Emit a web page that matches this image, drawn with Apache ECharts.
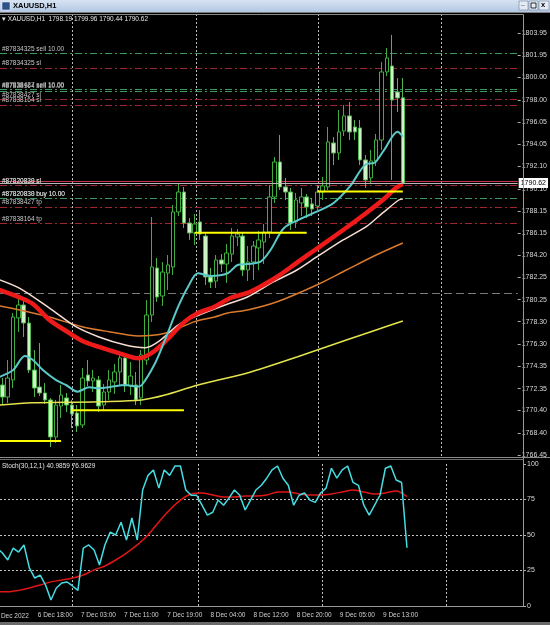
<!DOCTYPE html>
<html>
<head>
<meta charset="utf-8">
<script src="https://cdn.jsdelivr.net/npm/echarts@6.0.0/dist/echarts.min.js"></script>
<style>
html,body{margin:0;padding:0;background:#000;overflow:hidden;}
#chart{width:550px;height:625px;}
</style>
</head>
<body>
<div id="chart"></div>
<script>
// ---------- categories (H1 bars, index k = position in this list) ----------
const categories = [
 '6 Dec 10:00','6 Dec 11:00','6 Dec 12:00','6 Dec 13:00','6 Dec 14:00','6 Dec 15:00','6 Dec 16:00','6 Dec 17:00','6 Dec 18:00','6 Dec 19:00','6 Dec 20:00','6 Dec 21:00','6 Dec 22:00','6 Dec 23:00',
 '7 Dec 01:00','7 Dec 02:00','7 Dec 03:00','7 Dec 04:00','7 Dec 05:00','7 Dec 06:00','7 Dec 07:00','7 Dec 08:00','7 Dec 09:00','7 Dec 10:00','7 Dec 11:00','7 Dec 12:00','7 Dec 13:00','7 Dec 14:00','7 Dec 15:00','7 Dec 16:00','7 Dec 17:00','7 Dec 18:00','7 Dec 19:00','7 Dec 20:00','7 Dec 21:00','7 Dec 22:00','7 Dec 23:00',
 '8 Dec 01:00','8 Dec 02:00','8 Dec 03:00','8 Dec 04:00','8 Dec 05:00','8 Dec 06:00','8 Dec 07:00','8 Dec 08:00','8 Dec 09:00','8 Dec 10:00','8 Dec 11:00','8 Dec 12:00','8 Dec 13:00','8 Dec 14:00','8 Dec 15:00','8 Dec 16:00','8 Dec 17:00','8 Dec 18:00','8 Dec 19:00','8 Dec 20:00','8 Dec 21:00','8 Dec 22:00','8 Dec 23:00',
 '9 Dec 01:00','9 Dec 02:00','9 Dec 03:00','9 Dec 04:00','9 Dec 05:00','9 Dec 06:00','9 Dec 07:00','9 Dec 08:00','9 Dec 09:00','9 Dec 10:00','9 Dec 11:00','9 Dec 12:00','9 Dec 13:00','9 Dec 14:00','9 Dec 15:00','9 Dec 16:00','9 Dec 17:00','9 Dec 18:00'
];
// visible window in bar units (left edge .. right edge incl. empty shift area)
const barWindow = [1.557, 98.51];

// time axis labels
const timeTickAt   = ['6 Dec 10:00','6 Dec 18:00','7 Dec 03:00','7 Dec 11:00','7 Dec 19:00','8 Dec 04:00','8 Dec 12:00','8 Dec 20:00','9 Dec 05:00','9 Dec 13:00'];
const timeTickText = ['6 Dec 2022','6 Dec 18:00','7 Dec 03:00','7 Dec 11:00','7 Dec 19:00','8 Dec 04:00','8 Dec 12:00','8 Dec 20:00','9 Dec 05:00','9 Dec 13:00'];

// price axis labels
const priceTicks = ['1766.45','1768.40','1770.40','1772.35','1774.35','1776.30','1778.30','1780.25','1782.25','1784.20','1786.15','1788.15','1790.10','1792.10','1794.05','1796.05','1798.00','1800.00','1801.95','1803.95'];
const priceRange = [1766.36, 1805.64];
const stochTicks = ['0','25','50','75','100'];

// ---------- OHLC ----------
const opens = [1772.23,1772.23,1772.67,1771.60,1773.12,1778.63,1779.78,1778.18,1774.00,1772.49,1771.96,1771.34,1768.05,1770.80,1771.52,1770.89,1770.18,1769.12,1773.56,1773.03,1773.12,1770.89,1772.05,1772.94,1773.83,1775.07,1772.58,1772.67,1771.52,1774.89,1778.89,1783.07,1780.58,1782.62,1783.16,1788.05,1789.82,1787.07,1786.18,1787.16,1785.91,1782.27,1781.91,1783.78,1783.42,1784.31,1785.82,1785.91,1782.89,1783.60,1784.85,1785.38,1786.27,1789.38,1792.49,1790.27,1789.82,1787.16,1788.85,1789.38,1788.76,1788.58,1789.82,1790.27,1794.18,1793.29,1795.24,1796.58,1795.60,1795.51,1792.67,1791.07,1792.58,1794.44,1800.49,1801.02,1798.71,1798.19];
const closes = [1772.85,1772.67,1771.60,1773.29,1778.71,1779.78,1778.18,1774.00,1772.40,1771.96,1771.34,1768.05,1770.89,1771.78,1770.89,1770.09,1769.03,1773.29,1773.03,1773.29,1770.80,1772.05,1773.12,1773.83,1775.07,1772.58,1773.47,1771.34,1775.34,1778.89,1783.16,1780.49,1782.71,1783.34,1788.05,1789.82,1787.07,1786.18,1786.98,1786.09,1782.27,1781.82,1783.78,1783.42,1784.40,1785.91,1786.09,1782.89,1783.60,1785.02,1785.56,1786.27,1789.38,1792.49,1790.27,1789.82,1787.07,1789.11,1789.38,1788.49,1788.31,1789.82,1790.36,1794.27,1793.29,1795.16,1796.58,1795.16,1795.16,1792.67,1790.89,1792.58,1794.44,1800.49,1801.73,1798.00,1798.18,1790.62];
const lows   = [1771.78,1770.89,1770.89,1771.07,1772.40,1777.38,1776.94,1773.74,1771.60,1771.69,1770.98,1767.16,1767.52,1769.74,1770.27,1768.85,1768.49,1768.85,1772.58,1772.05,1770.27,1770.45,1771.34,1771.87,1772.67,1772.05,1771.78,1770.89,1770.89,1774.45,1778.27,1780.05,1779.69,1781.11,1782.45,1787.69,1786.62,1785.56,1785.11,1785.56,1781.56,1781.29,1781.29,1782.71,1781.74,1783.60,1785.02,1782.36,1781.91,1782.00,1782.89,1783.42,1785.73,1788.85,1790.00,1789.11,1786.45,1786.62,1787.69,1787.51,1787.69,1788.22,1789.11,1790.00,1792.22,1792.67,1794.80,1794.44,1794.44,1792.22,1790.18,1790.53,1792.13,1793.56,1800.13,1790.89,1796.93,1790.44];
const highs  = [1773.29,1773.56,1773.29,1774.89,1779.07,1780.67,1780.49,1778.71,1775.78,1776.40,1772.85,1771.52,1771.34,1772.67,1771.96,1771.34,1770.89,1774.18,1774.89,1774.00,1773.47,1772.76,1774.00,1774.54,1775.43,1775.34,1774.71,1773.83,1775.78,1780.22,1787.60,1783.96,1783.60,1784.22,1788.67,1790.62,1790.27,1787.51,1787.87,1788.22,1786.27,1783.07,1784.22,1784.31,1785.20,1786.62,1786.53,1786.27,1785.02,1785.47,1786.36,1786.98,1790.44,1792.93,1794.89,1791.07,1790.18,1789.73,1790.18,1789.65,1789.29,1790.44,1791.16,1795.60,1794.71,1797.11,1797.55,1797.82,1796.22,1796.22,1793.11,1793.56,1794.98,1801.38,1802.62,1803.78,1799.95,1799.96];

// ---------- moving averages [bar index, price] ----------
const maCyan = [[1,1773.30],[4.02,1774.00],[6.19,1775.25],[7.73,1774.89],[9.58,1774.00],[12.07,1773.11],[13.92,1772.67],[16.07,1772.08],[18.24,1772.47],[20.09,1772.38],[21.95,1772.47],[25.04,1772.67],[27.19,1772.52],[28.12,1772.67],[30.6,1774.60],[32.45,1776.67],[34.92,1779.63],[36.78,1781.41],[38.63,1782.60],[41.09,1782.36],[44.19,1782.60],[46.04,1783.33],[47.9,1783.42],[50.36,1783.63],[52.22,1784.67],[54.7,1786.60],[57.78,1787.42],[60.87,1788.07],[63.97,1788.82],[67.05,1790.29],[70.14,1792.31],[71.62,1792.40],[73.48,1793.55],[76.0,1795.18],[77,1794.74]];
const maRed = [[1,1781.20],[5.26,1780.45],[7.73,1779.87],[10.82,1778.45],[13.92,1777.47],[17.0,1776.58],[20.09,1776.05],[23.8,1775.51],[27.51,1775.04],[29.92,1775.51],[32.45,1776.52],[36.16,1778.30],[38.63,1779.07],[41.73,1779.63],[44.74,1780.40],[47.9,1780.85],[50.3,1781.41],[53.46,1782.29],[57.16,1783.54],[60.87,1784.78],[65.82,1786.44],[70.14,1787.96],[73.23,1789.11],[75.7,1790.18],[77,1790.53]];
const maPink = [[1,1782.10],[5.26,1781.26],[10.82,1779.51],[15.77,1777.85],[20.09,1776.94],[25.04,1776.22],[28.75,1775.98],[31.22,1776.52],[34.92,1778.00],[38.63,1778.85],[44.74,1779.96],[47.9,1780.49],[52.85,1781.85],[57.16,1782.89],[60.87,1784.05],[65.82,1785.56],[70.14,1786.74],[73.23,1787.96],[76.25,1789.11],[77,1789.20]];
const maOrange = [[1,1779.75],[5.26,1779.34],[10.82,1778.71],[16.94,1777.85],[21.95,1777.41],[27.51,1777.02],[32.45,1777.26],[38.02,1778.30],[41.73,1778.71],[44.19,1779.07],[47.9,1779.34],[53.46,1780.07],[60.87,1781.56],[66.43,1782.89],[72.0,1784.22],[77,1785.29]];
const maYellow = [[1,1770.87],[7.67,1771.10],[13.92,1771.13],[20.09,1771.19],[28.06,1771.34],[32.45,1771.78],[38.63,1772.67],[47.9,1773.74],[57.16,1775.16],[66.43,1776.67],[72.0,1777.56],[77,1778.36]];

// ---------- user trend lines (yellow) ----------
const trendLines = [
  [[0,1767.69],[13,1767.69]],
  [[15,1770.42],[36,1770.42]],
  [[38,1786.20],[59,1786.20]],
  [[61,1789.87],[77,1789.87]]
];

// ---------- trade levels ----------
const orderLevels = [
  {name:'#87834325 sell 10.00', price:1802.15, kind:'entry'},
  {name:'#87834325 sl',         price:1800.84, kind:'stop'},
  {name:'#87838427 sell 10.00', price:1798.95, kind:'entry'},
  {name:'#87838164 sell 10.00', price:1798.80, kind:'entry'},
  {name:'#87838427 sl',         price:1798.06, kind:'stop'},
  {name:'#87838164 sl',         price:1797.55, kind:'stop'},
  {name:'#87820830 sl',         price:1790.40, kind:'stop'},
  {name:'#87820838 sl',         price:1790.38, kind:'stop'},
  {name:'#87820830 buy 10.00',  price:1789.25, kind:'entry'},
  {name:'#87820838 buy 10.00',  price:1789.23, kind:'entry'},
  {name:'#87838427 tp',         price:1788.50, kind:'stop'},
  {name:'#87838164 tp',         price:1787.02, kind:'stop'}
];
const redLevel = 1790.80;
const hLinePrice = 1780.84;
const bidPrice = 1790.62;
const ohlcHeader = ['1798.19','1799.96','1790.44','1790.62'];

// ---------- stochastic (index = bar k) ----------
const stochMain = [null,40.8,37.3,32.4,40.8,38,43,26.8,19.7,21.8,14.8,4.2,12.7,16.2,16.9,14.1,11,40.8,43,39.4,28.9,43,52,50,59,46.5,62,46.5,81.7,92,95.8,83,95.8,92,98.6,98.6,81.7,78,78,71,64,66,74.6,71,76,81.7,78,67.6,74.6,81.7,85,90,95.8,98.6,90,85,71,78,79.6,74.6,73,79.6,83,97,90,95.8,98.6,87,85,71,64,71,78,97,98.6,88.7,87,41];
const stochSignal = [[1,10],[3,10],[5,11],[7,12.7],[9,14.8],[11,17],[13,18.3],[15,19.7],[17,21.8],[19,25.4],[21,28.2],[23,32.4],[25,37.3],[27,43],[29,50],[31,59.2],[33,67.6],[35,74.6],[37,78.9],[39,79.6],[41,78.2],[43,76.8],[45,76.8],[47,77.5],[49,77.5],[51,78.2],[53,80.3],[55,80.3],[57,78.9],[59,78.2],[61,78.2],[63,78.9],[65,80.3],[67,81.7],[69,80.3],[71,78.9],[73,79.6],[75,81],[77,77]];
const stochLevels = [25,50,75];
const stochHeader = ['40.9859','76.9629'];

// vertical grid separators (bar units)
const gridBars = [15.03,38.26,61.24,84.23];

// ---------- build ----------
const FONT = 'Liberation Sans';
const candleData = opens.map((o,k)=>[k, o, closes[k], lows[k], highs[k]]);
const stochMainData = stochMain.map((v,k)=>[k, v]).filter(d=>d[1]!==null);
const timeTickValues = timeTickAt.map(t=>categories.indexOf(t));
const priceTickValues = priceTicks.map(Number);

const chart = echarts.init(document.getElementById('chart'), null, {renderer:'canvas'});

function levelLine(o){
  const color = o.kind==='entry' ? '#3d9a5c' : '#a0262f';
  return {
    name:o.name, yAxis:o.price,
    lineStyle:{color, type:[7,3,2,3], width:1},
    label:{show:true, formatter:o.name, position:'insideStartTop', distance:[2,1], color:'#c8c8c8', fontSize:6.5, fontFamily:FONT}
  };
}
const vGrid = gridBars.map(b=>({xAxis:b, lineStyle:{color:'#bdbdbd', type:[2,2], width:1}, label:{show:false}}));

const xCommon = {type:'value', min:barWindow[0], max:barWindow[1], splitLine:{show:false}, axisLine:{show:false}, axisTick:{show:false}};

const option = {
  backgroundColor:'#000',
  animation:false,
  grid:[
    {left:0, width:523, top:14, height:442},
    {left:0, width:523, top:464, height:142}
  ],
  xAxis:[
    Object.assign({gridIndex:0, axisLabel:{show:false}}, xCommon),
    Object.assign({gridIndex:1,
      axisLabel:{show:true, customValues:timeTickValues, showMinLabel:true, showMaxLabel:true, hideOverlap:false, align:'left', padding:[0,0,0,3], margin:6,
        color:'#d0d0d0', fontSize:6.5, fontFamily:FONT,
        formatter:(v)=>{const i=timeTickValues.indexOf(Math.round(v)); return i>=0?timeTickText[i]:'';}}}, xCommon)
  ],
  yAxis:[
    {type:'value', gridIndex:0, position:'right', min:priceRange[0], max:priceRange[1],
     axisLine:{show:false}, splitLine:{show:false},
     axisTick:{show:true, length:3, customValues:priceTickValues, lineStyle:{color:'#b0b0b0'}},
     axisLabel:{show:true, customValues:priceTickValues, showMinLabel:true, showMaxLabel:true, margin:4, color:'#d8d8d8', fontSize:7, fontFamily:FONT,
       formatter:(v)=>{let b=0; priceTickValues.forEach((p,i)=>{if(Math.abs(p-v)<Math.abs(priceTickValues[b]-v)) b=i;}); return priceTicks[b];}}},
    {type:'value', gridIndex:1, position:'right', min:0, max:100,
     axisLine:{show:false}, splitLine:{show:false},
     axisTick:{show:true, length:3, customValues:[0,25,50,75,100], lineStyle:{color:'#b0b0b0'}},
     axisLabel:{show:true, customValues:[0,25,50,75,100], showMinLabel:true, showMaxLabel:true, margin:4, color:'#d8d8d8', fontSize:7, fontFamily:FONT,
       formatter:(v)=>stochTicks[Math.round(v/25)]}}
  ],
  series:[
    {type:'candlestick', xAxisIndex:0, yAxisIndex:0, data:candleData, encode:{x:0, y:[1,2,3,4]}, barWidth:4, z:2,
     itemStyle:{color:'#000000', color0:'#cdf3c4', borderColor:'#3fae3f', borderColor0:'#4fb64f', borderWidth:1},
     markLine:{silent:true, symbol:'none', z:1,
       data: vGrid
         .concat([{yAxis:hLinePrice, lineStyle:{color:'#7a7a7a', type:[8,4], width:1}, label:{show:false}}])
         .concat([{yAxis:redLevel, lineStyle:{color:'#c4384a', type:'solid', width:1}, label:{show:false}}])
         .concat(orderLevels.map(levelLine))
     }},
    {type:'line', name:'MA yellow', xAxisIndex:0, yAxisIndex:0, data:maYellow, showSymbol:false, smooth:0.3, z:3,
     lineStyle:{color:'#e4e44c', width:1.5}},
    {type:'line', name:'MA orange', xAxisIndex:0, yAxisIndex:0, data:maOrange, showSymbol:false, smooth:0.3, z:3,
     lineStyle:{color:'#da7a2c', width:1.5}},
    {type:'line', name:'MA pink', xAxisIndex:0, yAxisIndex:0, data:maPink, showSymbol:false, smooth:0.3, z:3,
     lineStyle:{color:'#f6ddd2', width:1.5}},
    {type:'line', name:'MA red', xAxisIndex:0, yAxisIndex:0, data:maRed, showSymbol:false, smooth:0.3, z:4,
     lineStyle:{color:'#ee1a1a', width:4.5}},
    {type:'line', name:'MA cyan', xAxisIndex:0, yAxisIndex:0, data:maCyan, showSymbol:false, smooth:0.3, z:5,
     lineStyle:{color:'#5cc9c9', width:2}},
    ...trendLines.map(seg=>({type:'line', xAxisIndex:0, yAxisIndex:0, data:seg, showSymbol:false, z:6,
     lineStyle:{color:'#ffff00', width:2}})),
    {type:'line', name:'bid', xAxisIndex:0, yAxisIndex:0, data:[], z:7,
     markLine:{silent:true, symbol:'none', z:10,
       data:[{yAxis:bidPrice, lineStyle:{color:'#b8b8b8', type:'solid', width:1},
         label:{show:true, position:'end', distance:1, formatter:bidPrice.toFixed(2), color:'#000', backgroundColor:'#ffffff',
           padding:[2,2,1,2], fontSize:7, fontFamily:FONT}}]}},
    {type:'line', name:'Stoch main', xAxisIndex:1, yAxisIndex:1, data:stochMainData, showSymbol:false, z:4,
     lineStyle:{color:'#45dde3', width:1.5},
     markLine:{silent:true, symbol:'none', z:1,
       data: stochLevels.map(v=>({yAxis:v, lineStyle:{color:'#c0c0c0', type:[2,2], width:1}, label:{show:false}}))
         .concat(vGrid)}},
    {type:'line', name:'Stoch signal', xAxisIndex:1, yAxisIndex:1, data:stochSignal, showSymbol:false, smooth:0.3, z:3,
     lineStyle:{color:'#e01616', width:1.5}}
  ],
  graphic:[
    // title bar
    {type:'rect', x:0, y:0, shape:{width:550, height:12}, z:100,
     style:{fill:new echarts.graphic.LinearGradient(0,0,0,1,[{offset:0,color:'#d7e3f3'},{offset:1,color:'#b3c8e4'}])}},
    {type:'rect', x:2, y:2, shape:{width:8, height:8}, z:101, style:{fill:'#2d4f8a', stroke:'#ffffff', lineWidth:0.5}},
    {type:'text', x:13, y:2, z:101, style:{text:'XAUUSD,H1', fill:'#000', font:'bold 7.5px "Liberation Sans"'}},
    {type:'rect', x:519, y:1, shape:{width:9, height:9}, z:101, style:{fill:'#e4ebf5', stroke:'#6d7f9a', lineWidth:0.6}},
    {type:'rect', x:529, y:1, shape:{width:9, height:9}, z:101, style:{fill:'#e4ebf5', stroke:'#6d7f9a', lineWidth:0.6}},
    {type:'rect', x:539, y:1, shape:{width:10, height:9}, z:101, style:{fill:'#e4ebf5', stroke:'#6d7f9a', lineWidth:0.6}},
    {type:'text', x:521, y:0, z:102, style:{text:'_', fill:'#000', font:'bold 7px "Liberation Sans"'}},
    {type:'rect', x:531, y:3, shape:{width:5, height:5}, z:102, style:{fill:'none', stroke:'#000', lineWidth:0.8}},
    {type:'text', x:541, y:1, z:102, style:{text:'x', fill:'#000', font:'bold 7.5px "Liberation Sans"'}},
    {type:'line', shape:{x1:0,y1:12.5,x2:550,y2:12.5}, z:100, style:{stroke:'#7a7a7a', lineWidth:1}},
    // frame
    {type:'line', shape:{x1:0,y1:14.5,x2:523.5,y2:14.5}, z:50, style:{stroke:'#8c8c8c', lineWidth:1}},
    {type:'line', shape:{x1:523.5,y1:14.5,x2:523.5,y2:606.5}, z:50, style:{stroke:'#9a9a9a', lineWidth:1}},
    {type:'line', shape:{x1:0,y1:457.5,x2:550,y2:457.5}, z:50, style:{stroke:'#8c8c8c', lineWidth:1}},
    {type:'line', shape:{x1:0,y1:459.5,x2:523.5,y2:459.5}, z:50, style:{stroke:'#6c6c6c', lineWidth:1}},
    {type:'line', shape:{x1:0,y1:606.5,x2:523.5,y2:606.5}, z:50, style:{stroke:'#9a9a9a', lineWidth:1}},
    {type:'rect', x:0, y:622, shape:{width:550, height:3}, z:50, style:{fill:'#6a6a6a'}},
    // first (cut-off) time label, left of the visible window
    {type:'text', x:-4.5, y:612.5, z:60, style:{text:timeTickText[0], fill:'#d0d0d0', font:'6.5px "Liberation Sans"'}},
    // headers
    {type:'text', x:2, y:16, z:60, style:{text:'▾ XAUUSD,H1  '+ohlcHeader.join(' '), fill:'#e6e6e6', font:'6.5px "Liberation Sans"'}},
    {type:'text', x:2, y:463, z:60, style:{text:'Stoch(30,12,1) '+stochHeader.join(' '), fill:'#e6e6e6', font:'6.5px "Liberation Sans"'}}
  ]
};
chart.setOption(option);
</script>
</body>
</html>
